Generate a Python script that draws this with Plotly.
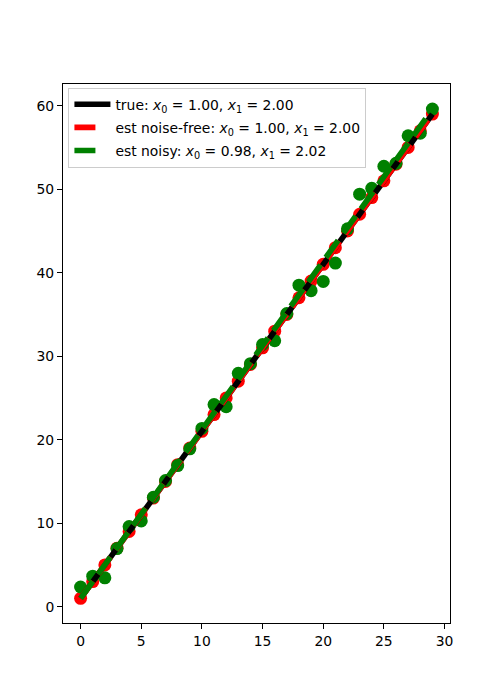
import plotly.graph_objects as go

x_vals = list(range(30))
y_noise_free = [1, 3, 5, 7, 9, 11, 13, 15, 17, 19, 21, 23, 25, 27, 29,
                31, 33, 35, 37, 39, 41, 43, 45, 47, 49, 51, 53, 55, 57, 59]
y_noisy = [2.35, 3.65, 3.45, 6.96, 9.6, 10.27, 13.1, 15.1, 16.9, 18.9,
           21.35, 24.2, 23.95, 27.95, 29.1, 31.4, 31.85, 35.1, 38.5, 37.85,
           38.95, 41.15, 45.25, 49.4, 50.1, 52.75, 53.1, 56.4, 56.7, 59.6]
line_x = [0, 29]
true_line = [1.0, 59.0]
est_free_line = [1.0, 59.0]
est_noisy_line = [0.98, 59.56]

labels = [
    "true: <i>x</i><sub>0</sub> = 1.00, <i>x</i><sub>1</sub> = 2.00",
    "est noise-free: <i>x</i><sub>0</sub> = 1.00, <i>x</i><sub>1</sub> = 2.00",
    "est noisy: <i>x</i><sub>0</sub> = 0.98, <i>x</i><sub>1</sub> = 2.02",
]

LW = 5.6
DASH = "21px,9px"
LEGEND_DASH = "21px,40px"
MS = 13

fig = go.Figure()
fig.add_trace(go.Scatter(x=x_vals, y=y_noise_free, mode="markers",
                         marker=dict(color="red", size=MS, line=dict(width=0)),
                         showlegend=False, hoverinfo="skip"))
fig.add_trace(go.Scatter(x=x_vals, y=y_noisy, mode="markers",
                         marker=dict(color="green", size=MS, line=dict(width=0)),
                         showlegend=False, hoverinfo="skip"))
fig.add_trace(go.Scatter(x=line_x, y=true_line, mode="lines",
                         line=dict(color="black", width=LW),
                         showlegend=False, hoverinfo="skip"))
fig.add_trace(go.Scatter(x=line_x, y=est_free_line, mode="lines",
                         line=dict(color="red", width=LW, dash=DASH),
                         showlegend=False, hoverinfo="skip"))
fig.add_trace(go.Scatter(x=line_x, y=est_noisy_line, mode="lines",
                         line=dict(color="green", width=LW, dash=DASH),
                         showlegend=False, hoverinfo="skip"))

# legend entries
for lab, col, dsh, grp in [(labels[0], "black", "solid", "a"),
                           (labels[1], "red", LEGEND_DASH, "b"),
                           (labels[2], "green", LEGEND_DASH, "c")]:
    fig.add_trace(go.Scatter(x=[None], y=[None], mode="lines",
                             line=dict(color=col, width=LW, dash=dsh),
                             name=lab, legendgroup=grp, showlegend=True))

axis_common = dict(
    showline=True, linecolor="black", linewidth=1, mirror=True,
    ticks="outside", ticklen=5, tickwidth=1, tickcolor="black",
    showgrid=False, zeroline=False,
    tickfont=dict(family="DejaVu Sans", size=13.9, color="black"),
)

# page body has an 8px default margin: shrink the figure to compensate
fig.update_layout(
    width=492, height=692,
    margin=dict(l=54.5, r=50, t=76, b=77),
    plot_bgcolor="white", paper_bgcolor="white",
    xaxis=dict(range=[-1.45, 30.45], tickvals=[0, 5, 10, 15, 20, 25, 30], **axis_common),
    yaxis=dict(range=[-1.96, 62.6], tickvals=[0, 10, 20, 30, 40, 50, 60], **axis_common),
    legend=dict(
        x=0.014, y=0.993, xanchor="left", yanchor="top",
        bgcolor="rgba(255,255,255,0.8)", bordercolor="#cccccc", borderwidth=1,
        font=dict(family="DejaVu Sans", size=13.9, color="black"),
        tracegroupgap=2, traceorder="grouped", itemwidth=36,
    ),
)

fig.write_html("out.html")
